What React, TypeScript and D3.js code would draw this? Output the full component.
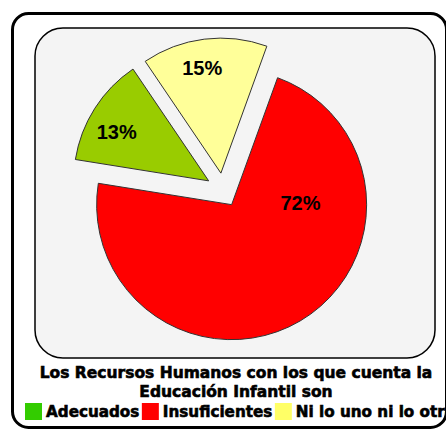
import React, { useEffect, useRef } from "react";
import * as d3 from "d3";

// chart data
const categories = ["Adecuados", "Insuficientes", "Ni lo uno ni lo otro"];
const values = [13, 72, 15];
const labels = ["13%", "72%", "15%"];
const sliceColors = ["#99cc00", "#ff0000", "#ffff99"];
const legendColors = ["#33cc00", "#ff0000", "#ffff66"];
// where each % label sits: fraction along the slice, fraction of radius
const labelAlong = [0.6, 0.735, 0.556];
const labelRadius = [0.77, 0.51, 0.79];
const titleLines = ["Los Recursos Humanos con los que cuenta la", "Educación Infantil son"];

const W = 446;
const H = 435;

const App = () => {
  const svgRef = useRef<SVGSVGElement>(null);

  useEffect(() => {
    const svg = d3.select(svgRef.current);
    svg.selectAll("*").remove();

    // outer frame
    svg
      .append("rect")
      .attr("x", 12.5)
      .attr("y", 13.5)
      .attr("width", 434)
      .attr("height", 414)
      .attr("rx", 16)
      .attr("fill", "#fff")
      .attr("stroke", "#000")
      .attr("stroke-width", 3);

    // plot area
    svg
      .append("rect")
      .attr("x", 35)
      .attr("y", 28)
      .attr("width", 400)
      .attr("height", 330)
      .attr("rx", 28)
      .attr("fill", "#f4f4f4")
      .attr("stroke", "#000")
      .attr("stroke-width", 1.5);

    const cx = 223;
    const cy = 190;
    const radius = 135;
    const explode = 17;
    const start = (325.9 * Math.PI) / 180;

    const pie = d3
      .pie<number>()
      .sort(null)
      .startAngle(start)
      .endAngle(start - 2 * Math.PI);

    const arc = d3.arc<d3.PieArcDatum<number>>().innerRadius(0).outerRadius(radius);

    const g = svg.append("g").attr("transform", `translate(${cx},${cy})`);
    const arcs = pie(values);

    const shift = (d: d3.PieArcDatum<number>) => {
      const mid = (d.startAngle + d.endAngle) / 2;
      return [Math.sin(mid) * explode, -Math.cos(mid) * explode];
    };

    g.selectAll("path")
      .data(arcs)
      .enter()
      .append("path")
      .attr("d", arc)
      .attr("transform", (d) => `translate(${shift(d)})`)
      .attr("fill", (d, i) => sliceColors[i])
      .attr("stroke", "#333")
      .attr("stroke-width", 1);

    g.selectAll("text.pct")
      .data(arcs)
      .enter()
      .append("text")
      .attr("class", "pct")
      .attr("x", (d, i) => {
        const a = d.startAngle + (d.endAngle - d.startAngle) * labelAlong[i];
        return shift(d)[0] + Math.sin(a) * radius * labelRadius[i];
      })
      .attr("y", (d, i) => {
        const a = d.startAngle + (d.endAngle - d.startAngle) * labelAlong[i];
        return shift(d)[1] - Math.cos(a) * radius * labelRadius[i];
      })
      .attr("dy", "0.35em")
      .attr("text-anchor", "middle")
      .style("font-family", "'Liberation Sans', Arial, sans-serif")
      .style("font-weight", "bold")
      .style("font-size", "20px")
      .attr("fill", "#000")
      .text((d, i) => labels[i]);

    // title
    svg
      .selectAll("text.title")
      .data(titleLines)
      .enter()
      .append("text")
      .attr("class", "title")
      .attr("x", 236)
      .attr("y", (d, i) => 378 + i * 19)
      .attr("text-anchor", "middle")
      .style("font-family", "'DejaVu Sans', Verdana, sans-serif")
      .style("font-weight", "bold")
      .style("font-size", "15.5px")
      .attr("fill", "#000")
      .attr("stroke", "#000")
      .attr("stroke-width", 0.6)
      .text((d) => d);

    // legend
    const legendY = 417;
    let x = 25;
    categories.forEach((c, i) => {
      svg
        .append("rect")
        .attr("x", x)
        .attr("y", legendY - 14)
        .attr("width", 17)
        .attr("height", 17)
        .attr("fill", legendColors[i]);
      x += 21;
      const t = svg
        .append("text")
        .attr("x", x)
        .attr("y", legendY)
        .style("font-family", "'DejaVu Sans', Verdana, sans-serif")
        .style("font-weight", "bold")
        .style("font-size", "15.2px")
        .attr("fill", "#000")
        .attr("stroke", "#000")
        .attr("stroke-width", 0.6)
        .text(c);
      x += (t.node() as SVGTextElement).getComputedTextLength() + 2.5;
    });
  }, []);

  return (
    <svg
      ref={svgRef}
      width={W}
      height={H}
      style={{ position: "absolute", left: 0, top: 0, background: "#fff" }}
    />
  );
};

export default App;
